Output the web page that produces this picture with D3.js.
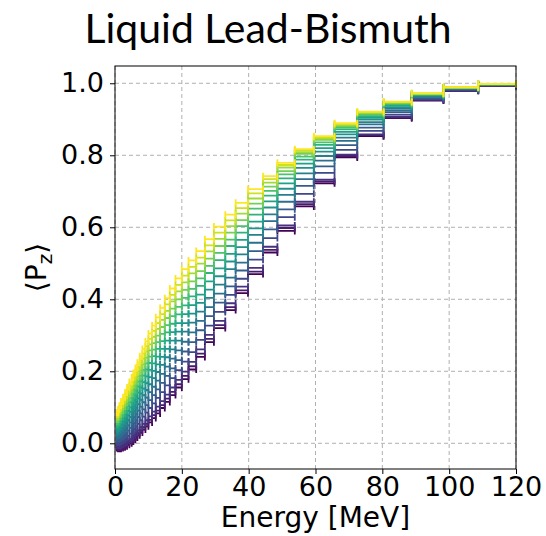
<!DOCTYPE html>
<html>
<head>
<meta charset="utf-8">
<script src="https://cdn.jsdelivr.net/npm/d3@7"></script>
<style>
  body { margin: 0; background: #fff; }
  text { font-family: "DejaVu Sans", sans-serif; }
</style>
</head>
<body>
<svg id="chart" width="546" height="536"></svg>
<script>
// energy bin edges [MeV]
var binEdges = [0.5, 0.9, 1.3, 1.8, 2.4, 3.0, 3.6, 4.3, 5.0, 5.5, 6.1, 6.7, 7.4, 8.2, 9.1, 10.0,
  11.1, 12.2, 13.5, 14.9, 16.4, 18.1, 20.0, 22.0, 24.3, 26.9, 29.6, 33.0, 36.1, 39.8,
  44.3, 48.6, 53.8, 59.5, 65.7, 72.5, 80.4, 88.8, 98.3, 108.7, 120];

// <Pz> per bin, one row per bin, columns go from the darkest to the lightest series
var pzByBin = [
  [-0.013, -0.010, -0.006, 0.003, 0.012, 0.020, 0.029, 0.037, 0.045, 0.053, 0.060, 0.066, 0.073, 0.079, 0.085],
  [-0.015, -0.012, -0.007, 0.002, 0.012, 0.022, 0.032, 0.041, 0.049, 0.058, 0.066, 0.073, 0.081, 0.087, 0.094],
  [-0.015, -0.011, -0.007, 0.004, 0.015, 0.025, 0.036, 0.046, 0.055, 0.065, 0.073, 0.081, 0.090, 0.097, 0.104],
  [-0.013, -0.009, -0.004, 0.008, 0.019, 0.031, 0.042, 0.053, 0.063, 0.073, 0.082, 0.091, 0.101, 0.108, 0.116],
  [-0.011, -0.007, -0.001, 0.011, 0.024, 0.036, 0.049, 0.060, 0.071, 0.082, 0.092, 0.102, 0.111, 0.120, 0.128],
  [-0.008, -0.004, 0.002, 0.016, 0.029, 0.043, 0.056, 0.068, 0.080, 0.092, 0.102, 0.113, 0.123, 0.132, 0.141],
  [-0.004, 0.001, 0.007, 0.021, 0.036, 0.050, 0.064, 0.077, 0.090, 0.103, 0.114, 0.125, 0.136, 0.145, 0.155],
  [0.000, 0.005, 0.012, 0.027, 0.043, 0.058, 0.073, 0.087, 0.100, 0.114, 0.126, 0.138, 0.150, 0.160, 0.170],
  [0.005, 0.010, 0.017, 0.033, 0.050, 0.066, 0.082, 0.096, 0.110, 0.124, 0.137, 0.149, 0.162, 0.172, 0.183],
  [0.010, 0.016, 0.023, 0.040, 0.056, 0.073, 0.090, 0.104, 0.119, 0.134, 0.147, 0.160, 0.173, 0.184, 0.195],
  [0.016, 0.022, 0.030, 0.047, 0.064, 0.082, 0.099, 0.114, 0.130, 0.145, 0.159, 0.172, 0.186, 0.197, 0.209],
  [0.022, 0.028, 0.036, 0.054, 0.073, 0.091, 0.109, 0.125, 0.141, 0.157, 0.171, 0.186, 0.200, 0.212, 0.224],
  [0.030, 0.036, 0.045, 0.064, 0.083, 0.102, 0.121, 0.138, 0.155, 0.172, 0.187, 0.202, 0.217, 0.229, 0.242],
  [0.038, 0.045, 0.054, 0.074, 0.094, 0.114, 0.134, 0.152, 0.170, 0.188, 0.204, 0.219, 0.235, 0.249, 0.262],
  [0.047, 0.054, 0.064, 0.085, 0.106, 0.127, 0.148, 0.167, 0.186, 0.205, 0.222, 0.238, 0.255, 0.269, 0.283],
  [0.058, 0.065, 0.075, 0.098, 0.120, 0.142, 0.164, 0.184, 0.204, 0.223, 0.241, 0.258, 0.275, 0.290, 0.305],
  [0.070, 0.078, 0.088, 0.111, 0.134, 0.157, 0.181, 0.201, 0.222, 0.242, 0.260, 0.278, 0.296, 0.312, 0.327],
  [0.083, 0.091, 0.102, 0.126, 0.150, 0.174, 0.198, 0.219, 0.241, 0.262, 0.281, 0.299, 0.318, 0.334, 0.350],
  [0.098, 0.106, 0.117, 0.142, 0.168, 0.193, 0.218, 0.240, 0.262, 0.284, 0.304, 0.323, 0.343, 0.359, 0.376],
  [0.115, 0.124, 0.135, 0.161, 0.187, 0.213, 0.239, 0.262, 0.285, 0.308, 0.328, 0.348, 0.368, 0.386, 0.403],
  [0.134, 0.143, 0.155, 0.181, 0.208, 0.235, 0.261, 0.285, 0.309, 0.332, 0.353, 0.374, 0.394, 0.412, 0.430],
  [0.155, 0.164, 0.176, 0.203, 0.231, 0.258, 0.285, 0.310, 0.334, 0.358, 0.379, 0.400, 0.422, 0.440, 0.458],
  [0.178, 0.187, 0.199, 0.227, 0.255, 0.282, 0.310, 0.334, 0.359, 0.383, 0.404, 0.426, 0.447, 0.466, 0.484],
  [0.205, 0.214, 0.226, 0.253, 0.281, 0.308, 0.335, 0.360, 0.384, 0.408, 0.429, 0.450, 0.472, 0.490, 0.508],
  [0.240, 0.249, 0.261, 0.287, 0.314, 0.340, 0.366, 0.390, 0.413, 0.437, 0.458, 0.478, 0.499, 0.516, 0.534],
  [0.281, 0.290, 0.301, 0.327, 0.353, 0.378, 0.404, 0.427, 0.450, 0.473, 0.493, 0.513, 0.533, 0.550, 0.567],
  [0.320, 0.328, 0.340, 0.365, 0.391, 0.416, 0.441, 0.464, 0.486, 0.509, 0.529, 0.548, 0.568, 0.585, 0.602],
  [0.370, 0.378, 0.389, 0.412, 0.436, 0.460, 0.484, 0.505, 0.526, 0.548, 0.566, 0.585, 0.603, 0.619, 0.635],
  [0.417, 0.425, 0.435, 0.457, 0.480, 0.502, 0.525, 0.545, 0.565, 0.585, 0.603, 0.620, 0.638, 0.653, 0.668],
  [0.470, 0.477, 0.487, 0.510, 0.534, 0.557, 0.579, 0.597, 0.616, 0.635, 0.652, 0.666, 0.680, 0.694, 0.706],
  [0.530, 0.537, 0.546, 0.570, 0.594, 0.617, 0.636, 0.655, 0.672, 0.688, 0.701, 0.713, 0.724, 0.734, 0.742],
  [0.590, 0.598, 0.605, 0.628, 0.650, 0.671, 0.690, 0.707, 0.722, 0.736, 0.747, 0.756, 0.766, 0.773, 0.779],
  [0.658, 0.664, 0.671, 0.693, 0.715, 0.734, 0.750, 0.765, 0.777, 0.788, 0.796, 0.804, 0.809, 0.814, 0.817],
  [0.722, 0.727, 0.732, 0.751, 0.769, 0.785, 0.798, 0.810, 0.820, 0.829, 0.836, 0.843, 0.846, 0.850, 0.853],
  [0.794, 0.798, 0.802, 0.815, 0.828, 0.840, 0.849, 0.858, 0.865, 0.872, 0.877, 0.881, 0.884, 0.887, 0.889],
  [0.853, 0.856, 0.858, 0.868, 0.877, 0.886, 0.892, 0.899, 0.904, 0.909, 0.912, 0.916, 0.918, 0.920, 0.921],
  [0.903, 0.905, 0.907, 0.913, 0.920, 0.925, 0.930, 0.934, 0.938, 0.941, 0.943, 0.945, 0.947, 0.948, 0.949],
  [0.952, 0.953, 0.954, 0.956, 0.959, 0.962, 0.964, 0.965, 0.967, 0.968, 0.969, 0.970, 0.971, 0.972, 0.972],
  [0.979, 0.979, 0.980, 0.981, 0.983, 0.984, 0.985, 0.986, 0.987, 0.987, 0.988, 0.988, 0.989, 0.989, 0.989],
  [0.993, 0.993, 0.993, 0.994, 0.995, 0.995, 0.996, 0.996, 0.997, 0.997, 0.997, 0.998, 0.998, 0.998, 0.998]
];

var xTicks = [0, 20, 40, 60, 80, 100, 120];
var yTicks = [0.0, 0.2, 0.4, 0.6, 0.8, 1.0];

var margin = {top: 66, right: 30, bottom: 67, left: 115},
    width = 546 - margin.left - margin.right,
    height = 536 - margin.top - margin.bottom;

var svg = d3.select('#chart');

var x = d3.scaleLinear().domain([0, 120]).range([0, width]);
var y = d3.scaleLinear().domain([-0.0714, 1.048]).range([height, 0]);

var color = d3.scaleSequential(d3.interpolateViridis)
    .domain([0, pzByBin[0].length - 1]);

var plot = svg.append('g')
    .attr('transform', 'translate(' + margin.left + ',' + margin.top + ')');

// grid
plot.append('g').selectAll('line.gx')
    .data(xTicks)
  .enter().append('line')
    .attr('x1', function(d) { return x(d); })
    .attr('x2', function(d) { return x(d); })
    .attr('y1', 0).attr('y2', height)
    .style('stroke', '#b0b0b0').style('stroke-width', 1).style('stroke-dasharray', '4,3');

plot.append('g').selectAll('line.gy')
    .data(yTicks)
  .enter().append('line')
    .attr('y1', function(d) { return y(d); })
    .attr('y2', function(d) { return y(d); })
    .attr('x1', 0).attr('x2', width)
    .style('stroke', '#b0b0b0').style('stroke-width', 1).style('stroke-dasharray', '4,3');

// one step series per column: horizontal bar per bin with caps at both edges
var nSeries = pzByBin[0].length,
    cap = 3.5;

for (var k = 0; k < nSeries; k++) {
  var d = '';
  pzByBin.forEach(function(row, i) {
    var x0 = x(binEdges[i]), x1 = x(binEdges[i + 1]), yy = y(row[k]);
    d += 'M' + x0 + ',' + (yy - cap) + 'V' + (yy + cap) +
         'M' + x0 + ',' + yy + 'H' + x1 +
         'M' + x1 + ',' + (yy - cap) + 'V' + (yy + cap);
  });
  plot.append('path')
      .attr('d', d)
      .style('fill', 'none')
      .style('stroke', color(k))
      .style('stroke-width', 1.8);
}

// axes
var xAxis = plot.append('g')
    .attr('transform', 'translate(0,' + height + ')')
    .call(d3.axisBottom(x).tickValues(xTicks).tickSize(5).tickPadding(3));

var yAxis = plot.append('g')
    .call(d3.axisLeft(y).tickValues(yTicks).tickFormat(d3.format('.1f')).tickSize(5).tickPadding(6));

[xAxis, yAxis].forEach(function(a) {
  a.select('.domain').remove();
  a.selectAll('text').style('font-size', '27px').style('fill', '#000');
  a.selectAll('line').style('stroke', '#000');
});

plot.append('rect')
    .attr('width', width).attr('height', height)
    .style('fill', 'none').style('stroke', '#000').style('stroke-width', 1);

// labels
svg.append('text')
    .attr('x', 268).attr('y', 43)
    .attr('text-anchor', 'middle')
    .style('font-family', 'Lato, sans-serif')
    .style('font-size', '41px')
    .attr('textLength', 367)
    .attr('lengthAdjust', 'spacingAndGlyphs')
    .text('Liquid Lead-Bismuth');

svg.append('text')
    .attr('x', margin.left + width / 2).attr('y', 527)
    .attr('text-anchor', 'middle')
    .style('font-size', '28px')
    .text('Energy [MeV]');

var yl = svg.append('text')
    .attr('transform', 'translate(46,' + (margin.top + height / 2) + ') rotate(-90)')
    .attr('text-anchor', 'middle')
    .style('font-size', '28px');
yl.append('tspan').text('\u27E8P');
yl.append('tspan').attr('dy', 6).style('font-size', '20px').text('z');
yl.append('tspan').attr('dy', -6).text('\u27E9');
</script>
</body>
</html>
